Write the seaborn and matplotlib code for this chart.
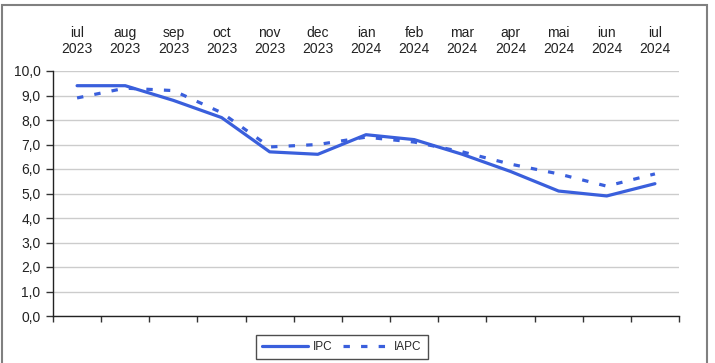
import pandas as pd
import matplotlib.pyplot as plt
import matplotlib.ticker as mticker
from matplotlib.patches import Rectangle
import seaborn as sns

# --- DATOS ---
luni = ['iul\n2023', 'aug\n2023', 'sep\n2023', 'oct\n2023', 'nov\n2023', 'dec\n2023',
        'ian\n2024', 'feb\n2024', 'mar\n2024', 'apr\n2024', 'mai\n2024', 'iun\n2024',
        'iul\n2024']
ipc = [9.4, 9.4, 8.8, 8.1, 6.7, 6.6, 7.4, 7.2, 6.6, 5.9, 5.1, 4.9, 5.4]
iapc = [8.9, 9.3, 9.2, 8.3, 6.9, 7.0, 7.3, 7.1, 6.7, 6.2, 5.8, 5.3, 5.8]
# -------------

ALBASTRU = '#3a5fdc'

pozitii = list(range(len(luni)))
df = pd.DataFrame({
    'poz': pozitii * 2,
    'valoare': ipc + iapc,
    'indice': ['IPC'] * len(ipc) + ['IAPC'] * len(iapc),
})

sns.set_style('white')
plt.rcParams['font.family'] = ['Liberation Sans', 'DejaVu Sans']

fig = plt.figure(figsize=(7.15, 3.63), dpi=100)
ax = fig.add_axes([53 / 715, 1 - 316 / 363, 626 / 715, 245 / 363])

sns.lineplot(data=df, x='poz', y='valoare', hue='indice', style='indice',
             palette={'IPC': ALBASTRU, 'IAPC': ALBASTRU},
             dashes={'IPC': '', 'IAPC': (2, 3.5)},
             linewidth=2.3, ax=ax, legend=False)

ax.set_xlim(-0.5, len(luni) - 0.5)
ax.set_ylim(0, 10)
ax.set_xlabel('')
ax.set_ylabel('')

# axa Y
ax.yaxis.set_major_locator(mticker.MultipleLocator(1))
ax.yaxis.set_major_formatter(mticker.FuncFormatter(lambda v, p: f'{v:.1f}'.replace('.', ',')))
ax.tick_params(axis='y', left=True, length=5, width=1, color='#333333',
               pad=4, labelsize=10, labelcolor='#222222')
ax.grid(axis='y', color='#cccccc', linewidth=1)

# axa X: etichete sus, semne intre categorii jos
ax.set_xticks(pozitii)
ax.set_xticklabels(luni, linespacing=1.2)
ax.tick_params(axis='x', which='major', top=False, bottom=False, labeltop=True,
               labelbottom=False, length=0, pad=11, labelsize=10, labelcolor='#222222')
ax.set_xticks([p - 0.5 for p in pozitii] + [len(luni) - 0.5], minor=True)
ax.tick_params(axis='x', which='minor', bottom=True, length=4, width=1, color='#333333')

for s in ['top', 'right']:
    ax.spines[s].set_visible(False)
for s in ['left', 'bottom']:
    ax.spines[s].set_color('#222222')
    ax.spines[s].set_linewidth(1)

# legenda
h1, = ax.plot([], [], color=ALBASTRU, lw=2.3)
h2, = ax.plot([], [], color=ALBASTRU, lw=2.3, dashes=(2, 3.5))
leg = fig.legend([h1, h2], ['IPC', 'IAPC'], loc='center', bbox_to_anchor=(342 / 715, 1 - 347 / 363),
                 ncol=2, frameon=True, fancybox=False, fontsize=8.5, handlelength=3.9,
                 columnspacing=0.9, handletextpad=0.4, borderpad=0.5, borderaxespad=0)
leg.get_frame().set_edgecolor('#222222')
leg.get_frame().set_linewidth(1)

# chenar exterior
fig.patches.append(Rectangle((2 / 715, -0.05), 705 / 715, 1.05 - 5 / 363,
                             transform=fig.transFigure, fill=False,
                             edgecolor='#808080', linewidth=1.5))

fig.savefig('out.png', dpi=100)
